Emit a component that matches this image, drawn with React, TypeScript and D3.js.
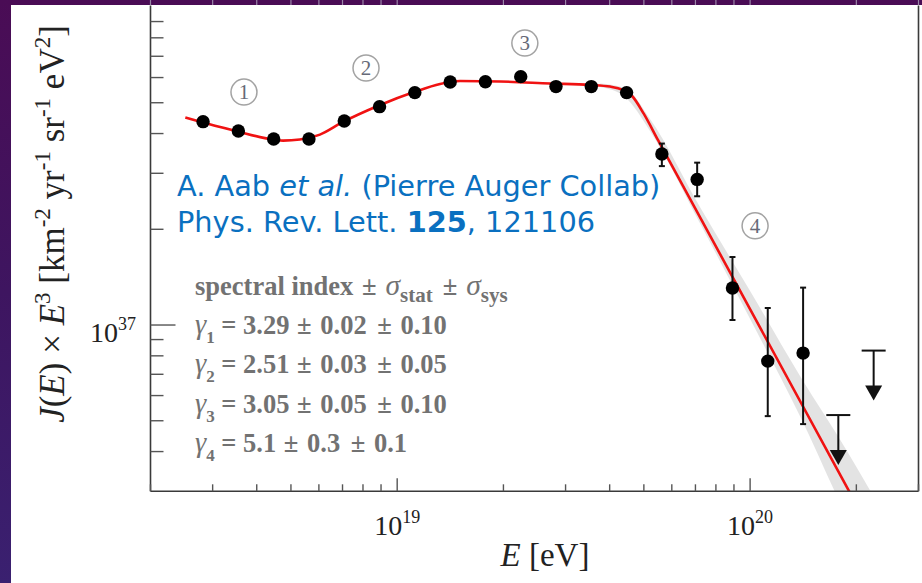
import React from 'react';
import * as d3 from 'd3';

// ---- data ----
const energies = [2.818e18, 3.548e18, 4.467e18, 5.623e18, 7.079e18, 8.913e18, 1.122e19, 1.413e19, 1.778e19, 2.239e19, 2.818e19, 3.548e19, 4.467e19, 5.623e19, 7.079e19, 8.913e19, 1.122e20, 1.413e20];
const flux = [4.36e37, 4.075e37, 3.846e37, 3.846e37, 4.38e37, 4.86e37, 5.38e37, 5.81e37, 5.82e37, 6.04e37, 5.62e37, 5.62e37, 5.38e37, 3.45e37, 2.87e37, 1.307e37, 7.7e36, 8.16e36];
const fluxHigh = [4.42e37, 4.13e37, 3.9e37, 3.9e37, 4.44e37, 4.93e37, 5.46e37, 5.9e37, 5.92e37, 6.15e37, 5.74e37, 5.76e37, 5.55e37, 3.72e37, 3.24e37, 1.636e37, 1.131e37, 1.311e37];
const fluxLow = [4.3e37, 4.02e37, 3.79e37, 3.79e37, 4.32e37, 4.79e37, 5.3e37, 5.72e37, 5.72e37, 5.93e37, 5.5e37, 5.48e37, 5.2e37, 3.16e37, 2.54e37, 1.037e37, 5.17e36, 4.88e36];

const limitEnergies = [1.778e20, 2.239e20];
const limitFlux = [5.21e36, 8.31e36];

const fitEnergies = [2.51e18, 2.8e18, 3.54e18, 4.22e18, 4.75e18, 5.3e18, 6.04e18, 7.02e18, 8.88e18, 1.116e19, 1.323e19, 1.507e19, 1.956e19, 2.71e19, 3.52e19, 4.01e19, 4.34e19, 4.63e19, 5.0e19, 5.48e19, 1.907e20, 2.2e20];
const fitFlux = [4.49e37, 4.34e37, 4.06e37, 3.87e37, 3.8e37, 3.83e37, 3.97e37, 4.35e37, 4.9e37, 5.4e37, 5.73e37, 5.85e37, 5.83e37, 5.75e37, 5.69e37, 5.62e37, 5.5e37, 5.25e37, 4.61e37, 3.82e37, 3.006e36, 2.25e36];

const bandEnergies = [3.76e19, 4.42e19, 5.21e19, 7.21e19, 1.0e20, 1.385e20, 1.92e20, 2.335e20];
const bandHigh = [5.75e37, 5.56e37, 4.44e37, 2.35e37, 1.279e37, 6.91e36, 3.87e36, 2.66e36];
const bandLow = [5.6e37, 5.21e37, 4.07e37, 2.09e37, 1.044e37, 5.17e36, 2.37e36, 1.555e36];

const regionLabels = ['1', '2', '3', '4'];
const regionEnergies = [3.68e18, 8.16e18, 2.3e19, 1.033e20];
const regionFlux = [5.4e37, 6.43e37, 7.7e37, 2.05e37];

const xMajorTicks = [1e19, 1e20];
const xMajorExp = ['19', '20'];
const yMajorTicks = [1e37];
const yMajorExp = ['37'];
const xDecades = [18, 19, 20];
const yDecades = [36, 37];
const minorMultipliers = [2, 3, 4, 5, 6, 7, 8, 9];

const gammaIdx = ['1', '2', '3', '4'];
const gammaValues = ['3.29', '2.51', '3.05', '5.1'];
const gammaStat = ['0.02', '0.03', '0.05', '0.3'];
const gammaSys = ['0.10', '0.05', '0.10', '0.1'];

const citation1 = 'A. Aab ';
const citationItalic = 'et al.';
const citation2 = ' (Pierre Auger Collab)';
const journal = 'Phys. Rev. Lett. ';
const volume = '125';
const article = ', 121106';

// ---- layout ----
const W = 922;
const H = 583;
const L = 150.5, R = 918.5, T = 5.5, B = 491.3;

export default function App() {
  const x = d3.scaleLog().domain([2e18, 3e20]).range([L, R]);
  const y = d3.scaleLog().domain([3e36, 1e38]).range([B, 7]);

  const fitLine = d3.line<number>()
    .x((_, i) => x(fitEnergies[i]))
    .y((d) => y(d))
    .curve(d3.curveMonotoneX)(fitFlux) as string;

  const band = d3.area<number>()
    .x((_, i) => x(bandEnergies[i]))
    .y0((_, i) => y(bandLow[i]))
    .y1((d) => y(d))
    .curve(d3.curveMonotoneX)(bandHigh) as string;

  const xMinor: number[] = [];
  xDecades.forEach((p) => minorMultipliers.forEach((k) => {
    const v = k * Math.pow(10, p);
    if (v >= 2e18 * 0.999 && v <= 3e20 * 1.001) xMinor.push(v);
  }));
  const yMinor: number[] = [];
  yDecades.forEach((p) => minorMultipliers.forEach((k) => {
    const v = k * Math.pow(10, p);
    if (v > 3.01e36 && v < 1e38) yMinor.push(v);
  }));

  const serif = '"Liberation Serif", "Times New Roman", serif';
  const textGrey = '#727272';
  const fs = 26.5;

  return (
    <svg width={W} height={H} style={{ position: 'absolute', left: 0, top: 0 }}>
      <defs>
        <linearGradient id="bgGrad" x1="0" y1="0" x2="0" y2="1">
          <stop offset="0" stopColor="#4a0c55" />
          <stop offset="0.5" stopColor="#3e1560" />
          <stop offset="1" stopColor="#3a2070" />
        </linearGradient>
        <clipPath id="plotClip">
          <rect x={L} y={T} width={R - L} height={B - T} />
        </clipPath>
      </defs>
      <rect x={0} y={0} width={W} height={H} fill="url(#bgGrad)" />
      <rect x={11} y={5} width={W - 11} height={H - 5} fill="#ffffff" />

      {/* top ticks seen in the band */}
      {xMinor.concat(xMajorTicks).map((v, i) => (
        <line key={'tt' + i} x1={x(v)} x2={x(v)} y1={0} y2={5} stroke="#9a86a8" strokeWidth={1.2} />
      ))}

      {/* band + fit */}
      <g clipPath="url(#plotClip)">
        <path d={band} fill="#dedede" opacity={0.85} />
        <path d={fitLine} fill="none" stroke="#f01212" strokeWidth={2.6} />
      </g>

      {/* frame */}
      <g stroke="#3a3a3a" strokeWidth={1.6} fill="none">
        <line x1={L} x2={L} y1={T} y2={B} />
        <line x1={L} x2={R} y1={B} y2={B} />
        <line x1={R} x2={R} y1={T} y2={B} />
      </g>
      {/* y ticks */}
      {yMinor.map((v, i) => (
        <line key={'ym' + i} x1={L} x2={L + 13} y1={y(v)} y2={y(v)} stroke="#555" strokeWidth={1.4} />
      ))}
      {yMajorTicks.map((v, i) => (
        <line key={'yM' + i} x1={L} x2={L + 25} y1={y(v)} y2={y(v)} stroke="#555" strokeWidth={1.4} />
      ))}
      {/* x ticks */}
      {xMinor.map((v, i) => (
        <line key={'xm' + i} x1={x(v)} x2={x(v)} y1={B} y2={B - 7} stroke="#555" strokeWidth={1.4} />
      ))}
      {xMajorTicks.map((v, i) => (
        <line key={'xM' + i} x1={x(v)} x2={x(v)} y1={B} y2={B - 13} stroke="#555" strokeWidth={1.4} />
      ))}

      {/* tick labels */}
      {xMajorTicks.map((v, i) => (
        <text key={'xl' + i} x={x(v)} y={535} textAnchor="middle" fontFamily={serif} fontSize={28} fill="#222">
          10<tspan fontSize={18} dy={-12}>{xMajorExp[i]}</tspan>
        </text>
      ))}
      {yMajorTicks.map((v, i) => (
        <text key={'yl' + i} x={136} y={y(v) + 17} textAnchor="end" fontFamily={serif} fontSize={28} fill="#222">
          10<tspan fontSize={18} dy={-12}>{yMajorExp[i]}</tspan>
        </text>
      ))}

      {/* axis titles */}
      <text x={545} y={566} textAnchor="middle" fontFamily={serif} fontSize={33} fill="#222">
        <tspan fontStyle="italic">E</tspan> [eV]
      </text>
      <text transform="translate(64,224) rotate(-90)" textAnchor="middle" fontFamily={serif} fontSize={35} fill="#222">
        <tspan fontStyle="italic">J</tspan>(<tspan fontStyle="italic">E</tspan>) × <tspan fontStyle="italic">E</tspan>
        <tspan fontSize={23} dy={-14}>3</tspan>
        <tspan dy={14}> [km</tspan><tspan fontSize={23} dy={-14}>-2</tspan>
        <tspan dy={14}> yr</tspan><tspan fontSize={23} dy={-14}>-1</tspan>
        <tspan dy={14}> sr</tspan><tspan fontSize={23} dy={-14}>-1</tspan>
        <tspan dy={14}> eV</tspan><tspan fontSize={23} dy={-14}>2</tspan>
        <tspan dy={14}>]</tspan>
      </text>

      {/* region labels */}
      {regionLabels.map((lab, i) => (
        <g key={'rl' + i} transform={`translate(${x(regionEnergies[i])},${y(regionFlux[i])})`}>
          <circle r={13} fill="none" stroke="#a3a3a3" strokeWidth={1.5} />
          <text y={7} textAnchor="middle" fontFamily={serif} fontSize={21} fill="#666a78">{lab}</text>
        </g>
      ))}

      {/* error bars */}
      {energies.map((e, i) => (
        <g key={'eb' + i} stroke="#111" strokeWidth={2}>
          <line x1={x(e)} x2={x(e)} y1={y(fluxHigh[i])} y2={y(fluxLow[i])} />
          <line x1={x(e) - 3} x2={x(e) + 3} y1={y(fluxHigh[i])} y2={y(fluxHigh[i])} />
          <line x1={x(e) - 3} x2={x(e) + 3} y1={y(fluxLow[i])} y2={y(fluxLow[i])} />
        </g>
      ))}
      {/* points */}
      {energies.map((e, i) => (
        <circle key={'pt' + i} cx={x(e)} cy={y(flux[i])} r={6.7} fill="#000" />
      ))}
      {/* upper limits */}
      {limitEnergies.map((e, i) => {
        const cx = x(e);
        const cy = y(limitFlux[i]);
        return (
          <g key={'ul' + i}>
            <line x1={cx - 12} x2={cx + 12} y1={cy} y2={cy} stroke="#111" strokeWidth={2} />
            <line x1={cx} x2={cx} y1={cy} y2={cy + 36} stroke="#111" strokeWidth={2} />
            <path d={`M${cx - 8.5},${cy + 35} L${cx + 8.5},${cy + 35} L${cx},${cy + 50} Z`} fill="#111" />
          </g>
        );
      })}

      {/* citation */}
      <text x={177} y={196} fontFamily='"DejaVu Sans", sans-serif' fontSize={28.8} fill="#0a70c0">
        {citation1}<tspan fontStyle="italic">{citationItalic}</tspan>{citation2}
      </text>
      <text x={177} y={232} fontFamily='"DejaVu Sans", sans-serif' fontSize={28.8} fill="#0a70c0">
        {journal}<tspan fontWeight="bold">{volume}</tspan>{article}
      </text>

      {/* spectral index block */}
      <text x={195} y={295} fontFamily={serif} fontSize={fs} fontWeight="bold" fill={textGrey}>
        spectral index <tspan dx={2}>±</tspan><tspan dx={9} fontStyle="italic" fontWeight="normal" fontSize={fs + 3}>σ</tspan>
        <tspan fontSize={21} dy={7}>stat</tspan>
        <tspan dy={-7} dx={10}>±</tspan>
        <tspan dx={9} fontStyle="italic" fontWeight="normal" fontSize={fs + 3}>σ</tspan>
        <tspan fontSize={21} dy={7}>sys</tspan>
      </text>
      {gammaValues.map((g, i) => (
        <text key={'g' + i} x={195} y={334 + i * 39.3} fontFamily={serif} fontSize={fs} fontWeight="bold" fill={textGrey}>
          <tspan fontStyle="italic" fontWeight="normal" fontSize={fs + 2}>γ</tspan>
          <tspan fontSize={17} dy={9}>{gammaIdx[i]}</tspan>
          <tspan dy={-9}> = {g} </tspan><tspan dx={1}>±</tspan><tspan dx={2}> {gammaStat[i]} </tspan><tspan dx={4}>±</tspan><tspan dx={2}> {gammaSys[i]}</tspan>
        </text>
      ))}
    </svg>
  );
}
